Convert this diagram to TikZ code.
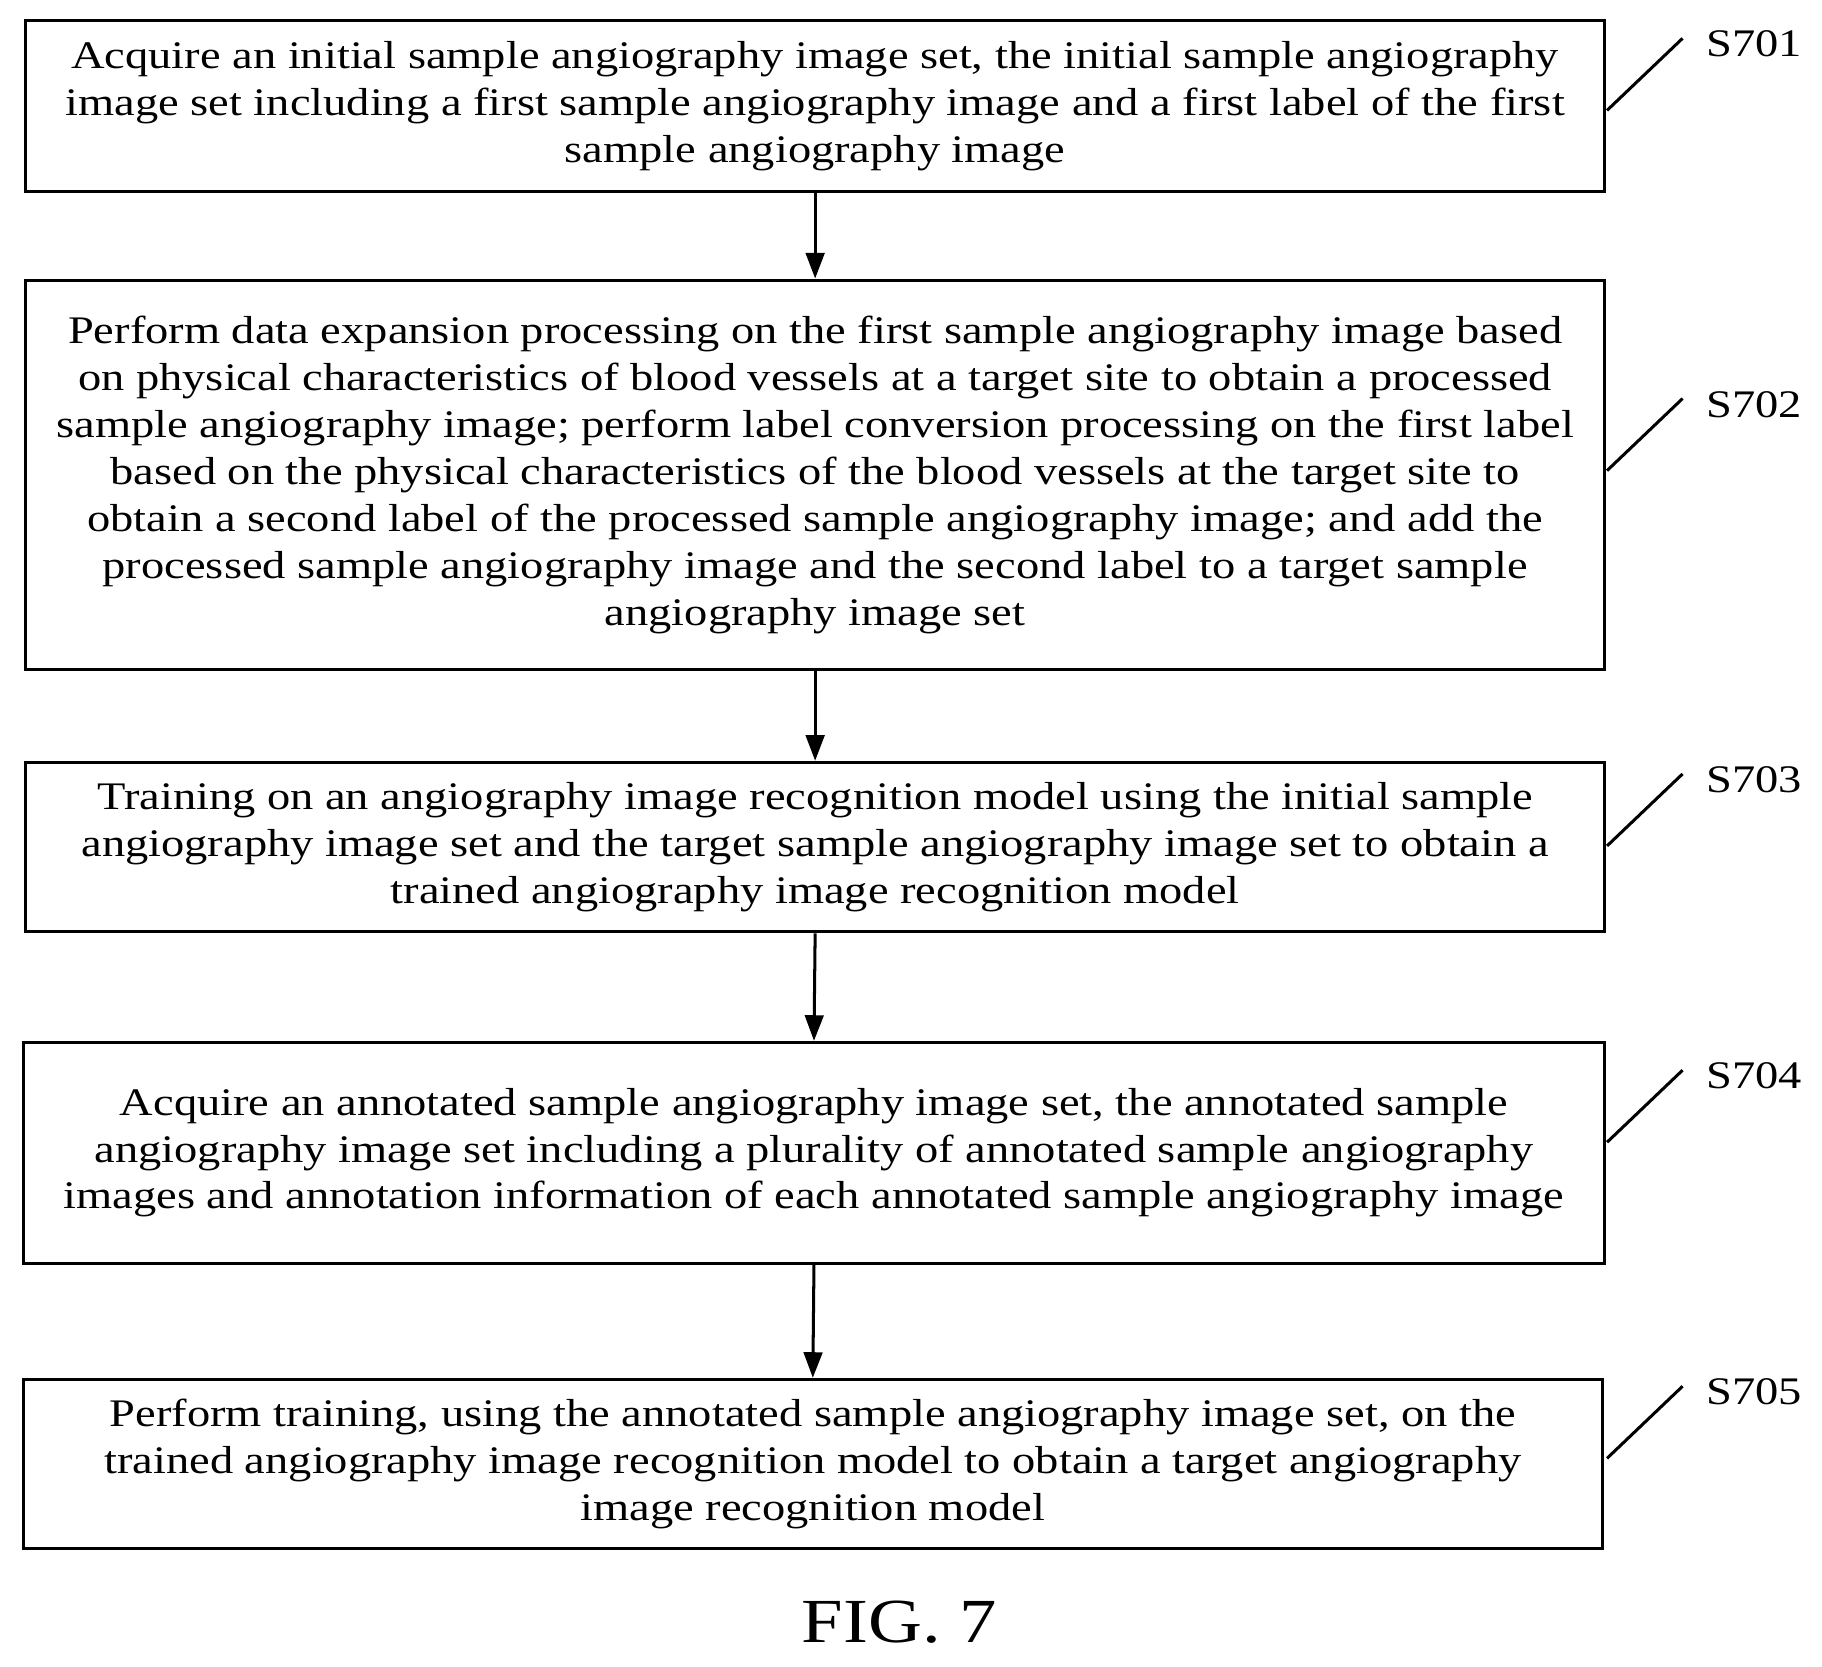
\documentclass[tikz,border=0pt]{standalone}
\usepackage{fontspec}
\setmainfont{Liberation Serif}[FakeStretch=1.19]
\usetikzlibrary{arrows.meta}
\begin{document}
\begin{tikzpicture}[x=0.5pt,y=-0.5pt,
  box/.style={draw,line width=1.3pt,align=center,font=\fontsize{16.8pt}{20.2pt}\selectfont,inner sep=0pt},
  arr/.style={-{Triangle[length=11pt,width=8pt]},line width=1.3pt},
  lab/.style={font=\fontsize{16.8pt}{20pt}\selectfont,anchor=west,inner sep=0pt},
  lead/.style={line width=1.3pt}]
\useasboundingbox (0,0) rectangle (1568,1434);
\node[box,minimum width=679.5pt,minimum height=73.5pt] (b1) at (701.5,91.5) {Acquire an initial sample angiography image set, the initial sample angiography\\image set including a first sample angiography image and a first label of the first\\sample angiography image};
\node[box,minimum width=679.5pt,minimum height=167.5pt] (b2) at (701.5,408.5) {Perform data expansion processing on the first sample angiography image based\\on physical characteristics of blood vessels at a target site to obtain a processed\\sample angiography image; perform label conversion processing on the first label\\based on the physical characteristics of the blood vessels at the target site to\\obtain a second label of the processed sample angiography image; and add the\\processed sample angiography image and the second label to a target sample\\angiography image set};
\node[box,minimum width=679.5pt,minimum height=73pt] (b3) at (701.5,729) {Training on an angiography image recognition model using the initial sample\\angiography image set and the target sample angiography image set to obtain a\\trained angiography image recognition model};
\node[box,minimum width=680.5pt,minimum height=95pt] (b4) at (700.5,992) {Acquire an annotated sample angiography image set, the annotated sample\\angiography image set including a plurality of annotated sample angiography\\images and annotation information of each annotated sample angiography image};
\node[box,minimum width=679.5pt,minimum height=73pt] (b5) at (699.5,1260) {Perform training, using the annotated sample angiography image set, on the\\trained angiography image recognition model to obtain a target angiography\\image recognition model};
\draw[arr] (b1.south) -- (b2.north);
\draw[arr] (b2.south) -- (b3.north);
\draw[arr] (b3.south) -- (b4.north);
\draw[arr] (b4.south) -- (b5.north);
\foreach \b/\s/\y in {b1/S701/95,b2/S702/405,b3/S703/728,b4/S704/983,b5/S705/1255}{
  \coordinate (\b e) at (1383,\y);
  \coordinate (\b t) at (1448,\y-62);
  \draw[lead] (\b e) -- (\b t);
  \node[lab] (\b l) at (1468,\y-57) {\s};
}
\node[font=\fontsize{27pt}{30pt}\selectfont] (fig) at (774,1396) {FIG. 7};
\end{tikzpicture}
\end{document}
